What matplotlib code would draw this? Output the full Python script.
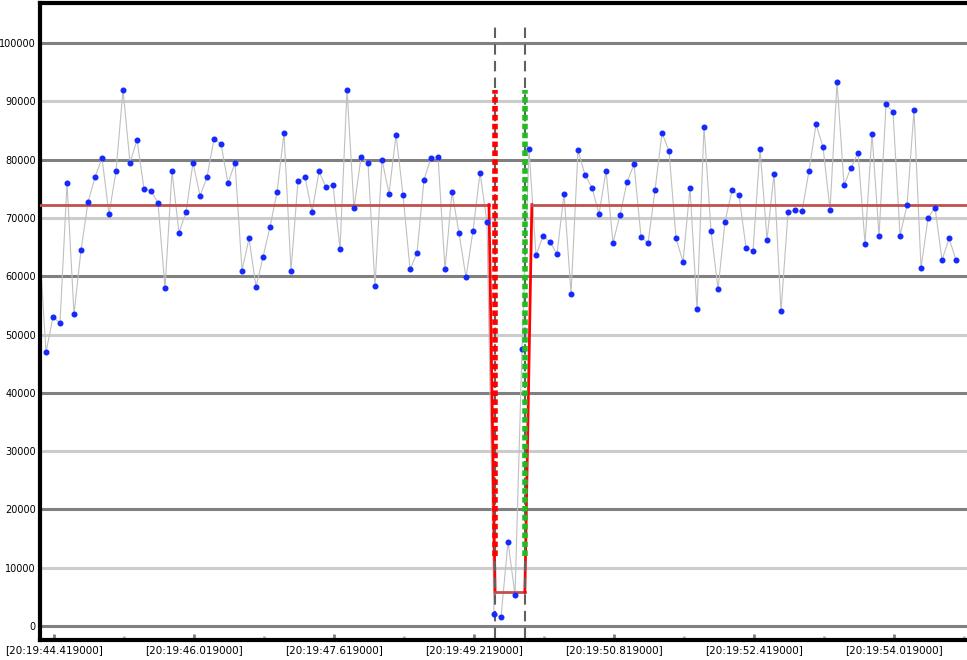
import numpy as np
import matplotlib.pyplot as plt
from matplotlib.ticker import FixedLocator

# values (in units)
values = [47000, 53000, 52000, 76000, 53500, 64500, 72700, 77000, 80300, 70700,
          78000, 92000, 79500, 83400, 75000, 74700, 72600, 58000, 78000, 67500,
          71000, 79500, 73800, 77000, 83600, 82700, 76000, 79500, 61000, 66500,
          58200, 63300, 68500, 74400, 84600, 61000, 76400, 77000, 71000, 78000,
          75300, 75700, 64700, 92000, 71700, 80400, 79400, 58400, 80000, 74200,
          84300, 74000, 61200, 64000, 76600, 80300, 80500, 61200, 74500, 67400,
          59800, 67800, 77800, 69300, 2000, 1500, 14500, 5300, 47500, 81800,
          63600, 66900, 65900, 63800, 74200, 57000, 81600, 77400, 75200, 70700,
          78100, 65800, 70500, 76200, 79200, 66800, 65700, 74800, 84600, 81500,
          66500, 62500, 75200, 54400, 85700, 67800, 57800, 69400, 74800, 73900,
          64900, 64400, 81900, 66300, 77600, 54000, 71000, 71300, 71200, 78100,
          86100, 82200, 71400, 93300, 75700, 78600, 81200, 65600, 84500, 66900,
          89500, 88200, 67000, 72200, 88500, 61400, 70000, 71800, 62800, 66500,
          62800]
first_value = 64000
t0 = 44.3276
dt = 0.08

mean_level = 72300
low_level = 5800
t_drop_start, t_cut1, t_cut2, t_rise_end = 49.39, 49.46, 49.80, 49.88
band_top, band_bottom = 92000, 12000

tick_times = [44.419, 46.019, 47.619, 49.219, 50.819, 52.419, 54.019]
tick_labels = ['[20:19:44.419000]', '[20:19:46.019000]', '[20:19:47.619000]',
               '[20:19:49.219000]', '[20:19:50.819000]', '[20:19:52.419000]',
               '[20:19:54.019000]']

t = t0 + dt * np.arange(len(values))

fig = plt.figure(figsize=(9.67, 6.6), dpi=100)
ax = fig.add_axes([40/967, 20/660, 1 - 40/967, 637/660])

for y in range(0, 110001, 10000):
    if y % 20000 == 0:
        ax.axhline(y, color='#808080', lw=2.2, zorder=0)
    else:
        ax.axhline(y, color='#cccccc', lw=2.2, zorder=0)

ax.plot(np.r_[t0 - 0.07, t], np.r_[first_value, values], color='#c0c0c0', lw=0.8, zorder=2)
ax.scatter(t, values, s=11, color='#1428ff', zorder=4)

# mean line with drop
ax.plot([44.2, t_drop_start], [mean_level] * 2, color='#c0504d', lw=2, zorder=3)
ax.plot([t_drop_start, t_cut1], [mean_level, low_level], color='#ff0000', lw=2, zorder=3)
ax.plot([t_cut1, t_cut2], [low_level] * 2, color='#c0504d', lw=2, zorder=3)
ax.plot([t_cut2, t_rise_end], [low_level, mean_level], color='#ff0000', lw=2, zorder=3)
ax.plot([t_rise_end, 55], [mean_level] * 2, color='#c0504d', lw=2, zorder=3)

for tc in (t_cut1, t_cut2):
    ax.plot([tc, tc], [-2000, 103000], color='#606060', lw=1.5, ls=(0, (5, 3)), zorder=3)
ax.plot([t_cut1] * 2, [band_bottom, band_top], color='#ff0000', lw=4, ls=(0, (1, 0.6)), zorder=5)
ax.plot([t_cut2] * 2, [band_bottom, band_top], color='#22bb22', lw=4, ls=(0, (1, 0.6)), zorder=5)

ax.set_xlim(44.259, 54.853)
ax.set_ylim(-2400, 106900)
ax.set_yticks(range(0, 100001, 10000))
ax.tick_params(axis='y', length=0, labelsize=7, pad=3)
ax.set_xticks(tick_times)
ax.set_xticklabels(tick_labels, fontsize=7.5)
ax.xaxis.set_minor_locator(FixedLocator([x + 0.8 for x in tick_times]))
ax.tick_params(axis='x', which='major', direction='in', length=4, width=2, color='#808080')
ax.tick_params(axis='x', which='minor', direction='in', length=3, width=2, color='#b0b0b0')
for s in ('left', 'bottom', 'top'):
    ax.spines[s].set_linewidth(3)
ax.spines['right'].set_visible(False)

fig.savefig('out.png', dpi=100)
